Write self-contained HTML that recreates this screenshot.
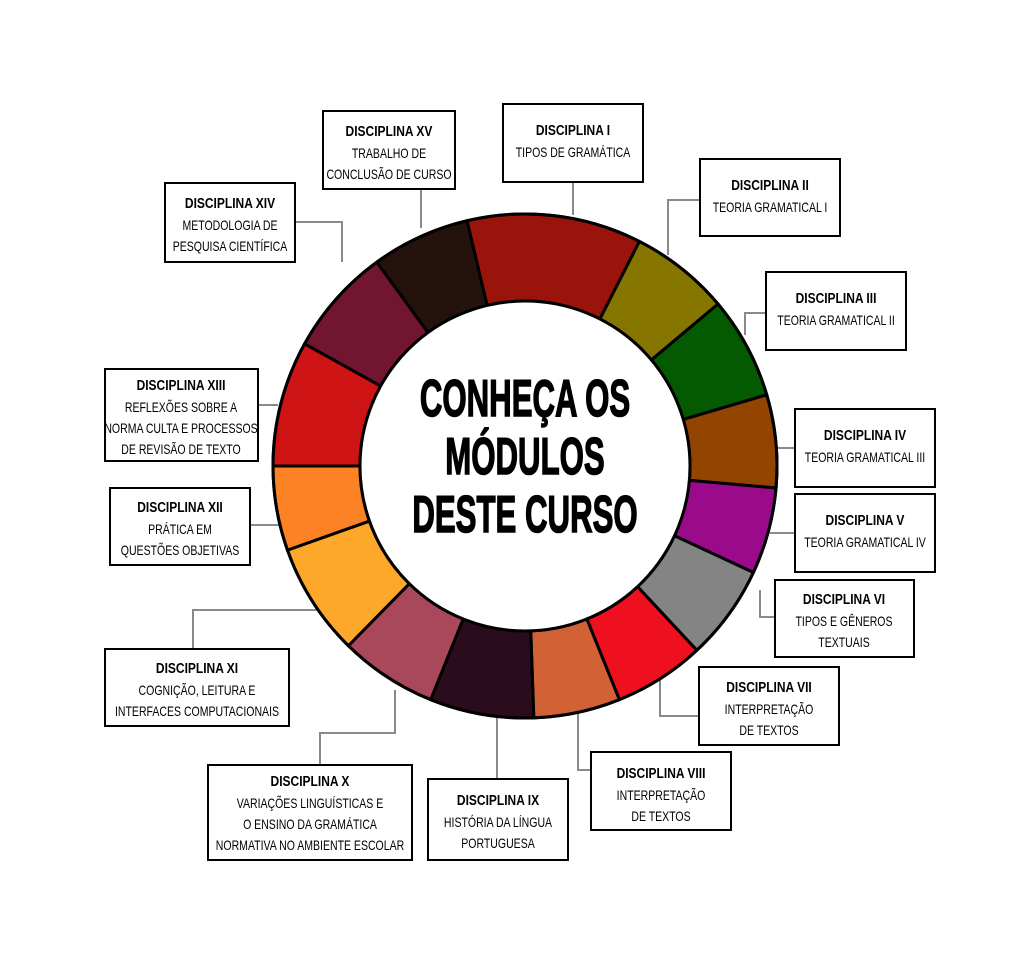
<!DOCTYPE html>
<html><head><meta charset="utf-8"><style>
html,body{margin:0;padding:0;background:#fff;}
svg{display:block}
.t{font-family:"Liberation Sans",sans-serif;font-weight:bold;font-size:15px;fill:#000}
.b{font-family:"Liberation Sans",sans-serif;font-size:13.5px;fill:#000}
.h{font-family:"Liberation Sans",sans-serif;font-weight:bold;font-size:52px;fill:#000;stroke:#000;stroke-width:1.5}
rect.bx{fill:#fff;stroke:#000;stroke-width:2}
.c{fill:none;stroke:#8a8a8a;stroke-width:2}
</style></head><body>
<svg id="s" width="1024" height="953" viewBox="0 0 1024 953" xmlns="http://www.w3.org/2000/svg">
<g class="c">
<polyline points="573,182 573,215"/>
<polyline points="700,200 668,200 668,255"/>
<polyline points="766,313 745,313 745,335"/>
<polyline points="795,448 775,448"/>
<polyline points="795,533 770,533"/>
<polyline points="775,617 760,617 760,590"/>
<polyline points="699,716 660,716 660,675"/>
<polyline points="591,770 578,770 578,710"/>
<polyline points="497,779 497,712"/>
<polyline points="320,765 320,733 395,733 395,690"/>
<polyline points="193,649 193,610 318,610"/>
<polyline points="250,525 282,525"/>
<polyline points="258,405 278,405"/>
<polyline points="295,222 342,222 342,262"/>
<polyline points="421,189 421,228"/>
</g>
<g id="ring"></g>
<circle cx="525" cy="466" r="165" fill="#fff" stroke="#000" stroke-width="3"/>
<g class="h" text-anchor="middle">
<text transform="translate(525 416) scale(.6 1)">CONHEÇA OS</text>
<text transform="translate(525 474) scale(.6 1)">MÓDULOS</text>
<text transform="translate(525 532) scale(.6 1)">DESTE CURSO</text>
</g>
<g text-anchor="middle">
<rect class="bx" x="503" y="104" width="140" height="78"/>
<text class="t" transform="translate(573 135) scale(.8 1)">DISCIPLINA I</text>
<text class="b" transform="translate(573 157) scale(.78 1)">TIPOS DE GRAMÁTICA</text>

<rect class="bx" x="700" y="159" width="140" height="77"/>
<text class="t" transform="translate(770 190) scale(.8 1)">DISCIPLINA II</text>
<text class="b" transform="translate(770 212) scale(.78 1)">TEORIA GRAMATICAL I</text>

<rect class="bx" x="766" y="272" width="140" height="78"/>
<text class="t" transform="translate(836 303) scale(.8 1)">DISCIPLINA III</text>
<text class="b" transform="translate(836 325) scale(.78 1)">TEORIA GRAMATICAL II</text>

<rect class="bx" x="795" y="409" width="140" height="78"/>
<text class="t" transform="translate(865 440) scale(.8 1)">DISCIPLINA IV</text>
<text class="b" transform="translate(865 462) scale(.78 1)">TEORIA GRAMATICAL III</text>

<rect class="bx" x="795" y="494" width="140" height="78"/>
<text class="t" transform="translate(865 525) scale(.8 1)">DISCIPLINA V</text>
<text class="b" transform="translate(865 547) scale(.78 1)">TEORIA GRAMATICAL IV</text>

<rect class="bx" x="775" y="580" width="139" height="77"/>
<text class="t" transform="translate(844 604) scale(.8 1)">DISCIPLINA VI</text>
<text class="b" transform="translate(844 626) scale(.78 1)">TIPOS E GÊNEROS</text>
<text class="b" transform="translate(844 647) scale(.78 1)">TEXTUAIS</text>

<rect class="bx" x="699" y="667" width="140" height="78"/>
<text class="t" transform="translate(769 692) scale(.8 1)">DISCIPLINA VII</text>
<text class="b" transform="translate(769 714) scale(.78 1)">INTERPRETAÇÃO</text>
<text class="b" transform="translate(769 735) scale(.78 1)">DE TEXTOS</text>

<rect class="bx" x="591" y="752" width="140" height="78"/>
<text class="t" transform="translate(661 778) scale(.8 1)">DISCIPLINA VIII</text>
<text class="b" transform="translate(661 800) scale(.78 1)">INTERPRETAÇÃO</text>
<text class="b" transform="translate(661 821) scale(.78 1)">DE TEXTOS</text>

<rect class="bx" x="428" y="779" width="140" height="81"/>
<text class="t" transform="translate(498 805) scale(.8 1)">DISCIPLINA IX</text>
<text class="b" transform="translate(498 827) scale(.78 1)">HISTÓRIA DA LÍNGUA</text>
<text class="b" transform="translate(498 848) scale(.78 1)">PORTUGUESA</text>

<rect class="bx" x="208" y="765" width="204" height="95"/>
<text class="t" transform="translate(310 786) scale(.8 1)">DISCIPLINA X</text>
<text class="b" transform="translate(310 808) scale(.78 1)">VARIAÇÕES LINGUÍSTICAS E</text>
<text class="b" transform="translate(310 829) scale(.78 1)">O ENSINO DA GRAMÁTICA</text>
<text class="b" transform="translate(310 850) scale(.78 1)">NORMATIVA NO AMBIENTE ESCOLAR</text>

<rect class="bx" x="105" y="649" width="184" height="77"/>
<text class="t" transform="translate(197 673) scale(.8 1)">DISCIPLINA XI</text>
<text class="b" transform="translate(197 695) scale(.78 1)">COGNIÇÃO, LEITURA E</text>
<text class="b" transform="translate(197 716) scale(.78 1)">INTERFACES COMPUTACIONAIS</text>

<rect class="bx" x="110" y="488" width="140" height="77"/>
<text class="t" transform="translate(180 512) scale(.8 1)">DISCIPLINA XII</text>
<text class="b" transform="translate(180 534) scale(.78 1)">PRÁTICA EM</text>
<text class="b" transform="translate(180 555) scale(.78 1)">QUESTÕES OBJETIVAS</text>

<rect class="bx" x="105" y="369" width="153" height="92"/>
<text class="t" transform="translate(181 390) scale(.8 1)">DISCIPLINA XIII</text>
<text class="b" transform="translate(181 412) scale(.78 1)">REFLEXÕES SOBRE A</text>
<text class="b" transform="translate(181 433) scale(.78 1)">NORMA CULTA E PROCESSOS</text>
<text class="b" transform="translate(181 454) scale(.78 1)">DE REVISÃO DE TEXTO</text>

<rect class="bx" x="165" y="183" width="130" height="79"/>
<text class="t" transform="translate(230 208) scale(.8 1)">DISCIPLINA XIV</text>
<text class="b" transform="translate(230 230) scale(.78 1)">METODOLOGIA DE</text>
<text class="b" transform="translate(230 251) scale(.78 1)">PESQUISA CIENTÍFICA</text>

<rect class="bx" x="323" y="111" width="132" height="78"/>
<text class="t" transform="translate(389 136) scale(.8 1)">DISCIPLINA XV</text>
<text class="b" transform="translate(389 158) scale(.78 1)">TRABALHO DE</text>
<text class="b" transform="translate(389 179) scale(.78 1)">CONCLUSÃO DE CURSO</text>
</g>
</svg>
<script>
(function(){
var cx=525,cy=466,R=252,r=165;
var a=[-13.3,27,50,73.6,95,115,137,158,178,202,224.5,250.5,270,299,324,346.7];
var col=["#9B140B","#867600","#045A00","#924400","#9A0A8A","#848484","#EE101E","#D26236","#2A0C1C","#A9485A","#FDA72B","#FD8125","#CE1414","#721530","#23130C"];
function p(rad,deg){var t=deg*Math.PI/180;return (cx+rad*Math.sin(t)).toFixed(2)+","+(cy-rad*Math.cos(t)).toFixed(2);}
var g=document.getElementById("ring"),h="";
for(var i=0;i<15;i++){var s=a[i],e=a[i+1];var L=(e-s)>180?1:0;
h+='<path d="M'+p(R,s)+' A'+R+','+R+' 0 '+L+' 1 '+p(R,e)+' L'+p(r,e)+' A'+r+','+r+' 0 '+L+' 0 '+p(r,s)+' Z" fill="'+col[i]+'" stroke="#000" stroke-width="3"/>';}
h+='<circle cx="'+cx+'" cy="'+cy+'" r="'+R+'" fill="none" stroke="#000" stroke-width="3"/>';
g.innerHTML=h;
})();
</script>
</body></html>
